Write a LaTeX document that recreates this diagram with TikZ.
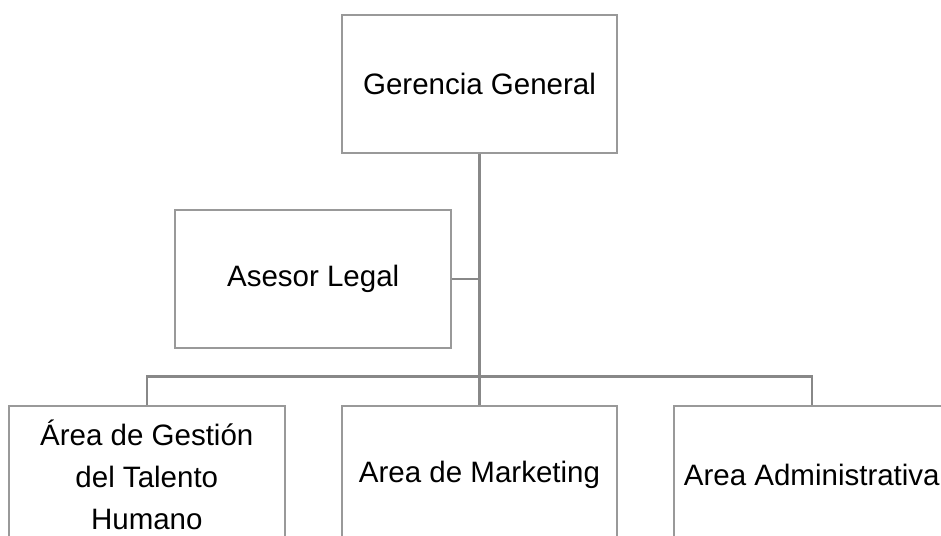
\documentclass[tikz,border=0pt]{standalone}
\usepackage{fontspec}
\setmainfont{Liberation Sans}
\definecolor{boxgray}{HTML}{999999}
\definecolor{linegray}{HTML}{888888}
\begin{document}
\begin{tikzpicture}[x=1pt,y=-1pt,
  orgbox/.style={draw=boxgray, line width=2pt, fill=white, rectangle, inner sep=0pt,
    minimum width=275.5pt, minimum height=137.7pt, align=center,
    font=\fontsize{29.5}{42}\selectfont},
  conn/.style={draw=linegray, line width=2.2pt}]
\useasboundingbox (0,0) rectangle (941,535);
\clip (0,0) rectangle (941,535);
\node[orgbox] (gg) at (479.5,84) {Gerencia General};
\node[orgbox] (al) at (313.2,279) {Asesor Legal};
\node[orgbox] (b1) at (146.8,474.5) {Área de Gestión\\del Talento\\Humano};
\node[orgbox] (b2) at (479.5,474.5) {Area de Marketing};
\node[orgbox] (b3) at (811.8,474.5) {Area Administrativa};
\coordinate (j) at (479.5,376.5);
\draw[conn] (gg.south) -- (j) -- (b2.north);
\draw[conn] (al.east) -- (al.east -| gg.south);
\draw[conn] (b1.north) -- (b1.north |- j) -- (b3.north |- j) -- (b3.north);
\end{tikzpicture}
\end{document}
